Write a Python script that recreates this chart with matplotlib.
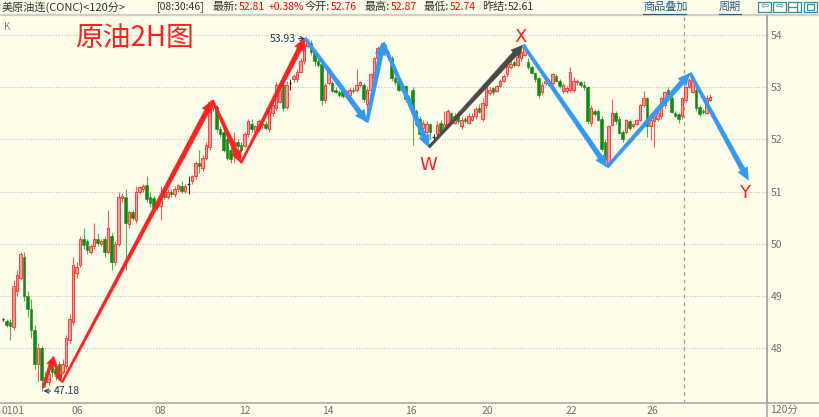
import numpy as np
import matplotlib.pyplot as plt
from matplotlib.patches import Polygon, Rectangle
from matplotlib.lines import Line2D

plt.rcParams["font.family"] = ["Noto Sans CJK SC", "DejaVu Sans"]

# 120-minute bars, crude oil continuous (CONC)
opens = [
    48.55, 48.52, 48.50, 48.40, 49.10, 49.35, 49.75, 49.00, 48.75, 48.35,
    47.70, 48.00, 47.45, 47.35, 47.75, 47.60, 47.70, 47.55, 47.65, 48.15,
    48.50, 49.45, 49.60, 50.10, 50.05, 49.85, 49.95, 50.10, 50.00, 50.10,
    49.85, 50.15, 49.65, 50.00, 50.88, 50.90, 50.38, 50.60, 50.45, 51.00,
    51.05, 51.12, 50.90, 50.88, 50.70, 50.72, 50.95, 50.90, 51.00, 50.95,
    51.05, 51.10, 51.02, 51.15, 51.20, 51.30, 51.55, 51.45, 51.65, 51.85,
    52.60, 52.62, 52.20, 52.15, 52.00, 51.80, 51.70, 51.95, 51.90, 51.88,
    52.10, 52.30, 52.15, 52.20, 52.28, 52.30, 52.20, 52.50, 52.60, 52.72,
    53.05, 52.62, 53.08, 53.15, 53.15, 53.30, 53.50, 53.78, 53.85, 53.68,
    53.50, 53.45, 52.75, 53.08, 53.08, 52.95, 52.90, 52.92, 52.85, 52.85,
    52.95, 52.95, 53.05, 53.05, 52.68, 52.95, 53.18, 53.55, 53.70, 53.80,
    53.68, 53.55, 53.18, 53.12, 52.95, 53.02, 52.80, 52.95, 52.55, 52.40,
    52.22, 52.15, 52.30, 52.05, 52.10, 52.32, 52.18, 52.28, 52.50, 52.32,
    52.45, 52.25, 52.40, 52.32, 52.38, 52.45, 52.60, 52.40, 52.65, 52.88,
    52.98, 52.92, 53.02, 53.12, 53.25, 53.38, 53.48, 53.42, 53.55, 53.62,
    53.48, 53.38, 53.28, 53.18, 52.90, 53.08, 53.12, 53.08, 53.22, 53.12,
    52.92, 52.92, 52.95, 52.95, 53.10, 53.10, 53.05, 53.00, 52.32, 52.55,
    52.55, 52.40, 51.95, 51.55, 52.28, 52.50, 52.40, 52.15, 52.15, 52.35,
    52.25, 52.30, 52.37, 52.65, 52.80, 52.25, 52.35, 52.40, 52.45, 52.65,
    52.95, 52.80, 52.50, 52.48, 52.45, 52.75, 53.00, 52.90, 52.95, 52.62,
    52.55, 52.50, 52.76,
]
highs = [
    48.57, 48.55, 48.55, 49.30, 49.50, 49.85, 49.85, 49.10, 48.95, 48.45,
    48.10, 48.05, 47.55, 47.60, 47.85, 47.70, 47.75, 47.80, 48.25, 48.65,
    49.75, 49.65, 50.15, 50.30, 50.10, 50.00, 50.40, 50.20, 50.10, 50.15,
    50.65, 50.20, 50.05, 51.00, 50.98, 51.05, 50.65, 50.65, 51.10, 51.10,
    51.15, 51.30, 51.00, 50.92, 50.85, 51.10, 51.00, 51.05, 51.05, 51.10,
    51.15, 51.20, 51.15, 51.30, 51.32, 51.58, 51.80, 51.70, 51.95, 52.75,
    52.75, 52.65, 52.25, 52.20, 52.05, 51.85, 52.15, 52.00, 51.95, 52.15,
    52.40, 52.40, 52.28, 52.40, 52.35, 52.35, 52.62, 52.70, 53.10, 53.00,
    53.15, 53.12, 53.15, 53.25, 53.35, 53.55, 53.85, 53.93, 53.90, 53.72,
    53.55, 53.50, 53.08, 53.38, 53.12, 53.00, 52.95, 52.98, 52.95, 52.98,
    53.00, 53.35, 53.12, 53.08, 52.98, 53.28, 53.58, 53.78, 53.85, 53.85,
    53.72, 53.60, 53.22, 53.15, 53.08, 53.05, 52.85, 53.00, 52.58, 52.45,
    52.38, 52.35, 52.32, 52.10, 52.35, 52.38, 52.55, 52.58, 52.52, 52.50,
    52.55, 52.42, 52.42, 52.50, 52.50, 52.62, 52.68, 52.80, 53.05, 53.00,
    53.00, 53.05, 53.15, 53.25, 53.45, 53.50, 53.52, 53.60, 53.72, 53.82,
    53.55, 53.40, 53.30, 53.20, 53.10, 53.15, 53.15, 53.28, 53.25, 53.15,
    53.08, 53.02, 53.38, 53.20, 53.15, 53.12, 53.12, 53.02, 52.65, 52.58,
    52.58, 52.45, 52.00, 52.28, 52.78, 52.55, 52.45, 52.18, 52.40, 52.40,
    52.32, 52.40, 52.68, 52.92, 52.82, 52.40, 52.50, 52.55, 52.82, 52.92,
    53.00, 52.85, 52.55, 52.50, 52.82, 53.02, 53.18, 53.23, 53.00, 52.65,
    52.58, 52.85, 52.87,
]
lows = [
    48.53, 48.40, 48.15, 48.35, 49.00, 49.30, 48.90, 48.60, 48.20, 47.60,
    47.35, 47.18, 47.25, 47.30, 47.45, 47.40, 47.45, 47.50, 47.60, 48.10,
    48.45, 49.35, 49.55, 49.90, 49.80, 49.80, 49.90, 49.95, 49.95, 49.75,
    49.80, 49.50, 49.60, 49.95, 50.80, 49.50, 50.30, 50.45, 50.40, 50.95,
    51.00, 50.80, 50.70, 50.60, 50.65, 50.45, 50.85, 50.85, 50.90, 50.90,
    51.00, 50.98, 50.98, 50.95, 51.15, 51.25, 51.35, 51.40, 51.60, 51.80,
    52.55, 52.15, 52.05, 51.75, 51.60, 51.55, 51.55, 51.80, 51.75, 51.85,
    52.05, 52.15, 52.10, 52.15, 52.22, 52.18, 52.15, 52.45, 52.55, 52.70,
    52.55, 52.58, 52.95, 53.10, 53.10, 53.28, 53.45, 53.75, 53.62, 53.40,
    53.38, 52.65, 52.70, 53.05, 52.90, 52.88, 52.82, 52.80, 52.80, 52.80,
    52.88, 52.90, 53.00, 52.72, 52.40, 52.90, 53.15, 53.50, 53.65, 53.65,
    53.52, 53.12, 53.05, 52.92, 52.90, 52.72, 52.65, 51.90, 52.25, 52.05,
    52.15, 52.10, 52.00, 51.95, 52.05, 52.10, 52.15, 52.25, 52.30, 52.30,
    52.30, 52.20, 52.32, 52.30, 52.35, 52.40, 52.50, 52.35, 52.60, 52.85,
    52.85, 52.90, 53.00, 53.10, 53.20, 53.35, 53.38, 53.40, 53.50, 53.60,
    53.35, 53.25, 53.10, 52.80, 52.85, 53.05, 53.02, 53.05, 53.10, 52.98,
    52.88, 52.88, 52.90, 52.90, 53.05, 53.00, 52.95, 52.30, 52.25, 52.45,
    52.35, 51.78, 51.50, 51.50, 52.25, 52.30, 52.10, 51.95, 52.10, 52.18,
    52.22, 52.28, 52.35, 52.62, 52.05, 51.98, 51.85, 52.35, 52.40, 52.60,
    52.80, 52.50, 52.42, 52.32, 52.40, 52.72, 52.98, 52.88, 52.55, 52.45,
    52.48, 52.48, 52.74,
]
closes = [
    48.55, 48.45, 48.42, 49.20, 49.40, 49.80, 49.00, 48.75, 48.35, 47.70,
    48.00, 47.40, 47.35, 47.50, 47.55, 47.50, 47.55, 47.70, 48.20, 48.55,
    49.60, 49.55, 50.10, 49.98, 49.88, 49.95, 50.10, 50.02, 50.05, 49.85,
    50.30, 49.65, 50.00, 50.90, 50.92, 50.40, 50.60, 50.50, 51.00, 51.08,
    51.10, 50.85, 50.78, 50.70, 50.80, 50.88, 50.90, 51.00, 50.95, 51.05,
    51.12, 51.02, 51.10, 51.15, 51.30, 51.55, 51.50, 51.65, 51.90, 52.72,
    52.70, 52.20, 52.10, 51.80, 51.65, 51.62, 51.95, 51.88, 51.80, 52.10,
    52.35, 52.20, 52.25, 52.35, 52.32, 52.22, 52.55, 52.65, 53.05, 52.95,
    52.60, 53.05, 53.08, 53.22, 53.30, 53.50, 53.80, 53.88, 53.68, 53.50,
    53.42, 52.75, 53.05, 53.35, 52.92, 52.90, 52.85, 52.83, 52.92, 52.95,
    52.92, 53.05, 53.10, 52.78, 52.95, 53.25, 53.55, 53.75, 53.80, 53.70,
    53.58, 53.18, 53.10, 52.95, 53.05, 52.78, 52.70, 52.55, 52.30, 52.10,
    52.32, 52.30, 52.15, 52.05, 52.28, 52.14, 52.30, 52.55, 52.35, 52.45,
    52.35, 52.38, 52.35, 52.45, 52.45, 52.58, 52.52, 52.70, 53.00, 52.95,
    52.90, 53.02, 53.12, 53.22, 53.40, 53.45, 53.42, 53.58, 53.68, 53.75,
    53.38, 53.28, 53.15, 52.85, 53.05, 53.12, 53.05, 53.25, 53.12, 53.02,
    53.05, 52.98, 53.30, 53.12, 53.12, 53.05, 53.00, 52.35, 52.60, 52.48,
    52.38, 51.82, 51.60, 52.25, 52.50, 52.35, 52.12, 52.00, 52.37, 52.22,
    52.30, 52.37, 52.65, 52.80, 52.25, 52.37, 52.45, 52.50, 52.80, 52.90,
    52.82, 52.52, 52.45, 52.40, 52.80, 53.00, 53.13, 53.15, 52.60, 52.48,
    52.52, 52.80, 52.81,
]

date_labels = ["0101", "06", "08", "12", "14", "16", "20", "22", "26"]
date_ticks = [-0.3, 19.7, 43.4, 67.4, 91.1, 114.9, 136.6, 160.6, 184.0]
price_ticks = [48, 49, 50, 51, 52, 53, 54]
cursor_bar = 194.6

# hand-drawn wave marks, (bar, price) waypoints
red_small = [(11.4, 47.24), (14.3, 47.83), (16.6, 47.35)]
red_wave = [(16.9, 47.35), (59.9, 52.75), (68.0, 51.55), (86.3, 53.94)]
blue_wave1 = [(86.3, 53.94), (104.0, 52.33), (108.6, 53.85), (121.7, 51.85)]
black_wave = [(121.7, 51.85), (148.6, 53.81)]
blue_wave2 = [(148.6, 53.81), (172.6, 51.47), (196.3, 53.27), (213.0, 51.22)]
wave_letters = ["W", "X", "Y"]
letter_pos = [(121.4, 51.5), (148.0, 53.96), (212.0, 50.97)]

# header quote
header_labels = ["最新:", "今开:", "最高:", "最低:", "昨结:"]
header_values = ["52.81", "52.76", "52.87", "52.74", "52.61"]

BG = "#fefeea"
RED = "#ff2020"
BLUE = "#3399f2"
GREEN = "#118a11"
AXIS_GRAY = "#a8a8a8"
W, H = 820, 417


def fpos(x, y):
    """Pixel position (from top-left) to figure fraction."""
    return x / W, 1 - y / H


def draw_arrow(ax, p0, p1, color, w0=2.0, w1=5.0, head_w=11.0, head_l=12.0):
    """Tapered arrow between two data points, sized in pixels."""
    tr = ax.transData
    a = tr.transform(p0)
    b = tr.transform(p1)
    d = b - a
    u = d / np.hypot(*d)
    n = np.array([-u[1], u[0]])
    s = b - u * head_l
    pts = [
        a + n * w0 / 2, s + n * w1 / 2, s + n * head_w / 2, b,
        s - n * head_w / 2, s - n * w1 / 2, a - n * w0 / 2,
    ]
    pts = tr.inverted().transform(pts)
    ax.add_patch(Polygon(pts, closed=True, facecolor=color, edgecolor=color,
                         lw=0.3, zorder=6, clip_on=False))


def draw_wave(ax, points, color, **kw):
    for p0, p1 in zip(points[:-1], points[1:]):
        draw_arrow(ax, p0, p1, color, **kw)


def draw_candles(ax):
    o, h, l, c = (np.array(v) for v in (opens, highs, lows, closes))
    x = np.arange(len(c))
    up, down, flat = c > o, c < o, c == o
    ax.vlines(x[up], l[up], h[up], color="#ff5a5a", lw=0.8, zorder=2)
    ax.vlines(x[down], l[down], h[down], color="#5aaa5a", lw=0.8, zorder=2)
    ax.vlines(x[flat], l[flat], h[flat], color="#303030", lw=0.8, zorder=2)
    ax.bar(x[up], c[up] - o[up], bottom=o[up], width=0.72,
           facecolor="#ff9a9a", edgecolor="#ff2a2a", lw=0.6, zorder=3)
    ax.bar(x[down], o[down] - c[down], bottom=c[down], width=0.72,
           facecolor=GREEN, edgecolor=GREEN, lw=0.4, zorder=3)
    ax.hlines(o[flat], x[flat] - 0.4, x[flat] + 0.4, color="#303030", lw=0.9, zorder=3)
    return x, h, l


fig = plt.figure(figsize=(W / 100, H / 100), dpi=100, facecolor=BG)
ax = fig.add_axes([0, (H - 403) / H, 767 / W, (403 - 15) / H])
ax.set_facecolor(BG)
ax.set_xlim(-3 / 3.5, 764 / 3.5)
ax.set_ylim(54 - 368 / 52.2, 54 + 20 / 52.2)

for side in ["left", "top"]:
    ax.spines[side].set_visible(False)
for side in ["right", "bottom"]:
    ax.spines[side].set_color(AXIS_GRAY)
    ax.spines[side].set_linewidth(1.2)

ax.yaxis.tick_right()
ax.set_yticks(price_ticks, [str(p) for p in price_ticks])
ax.tick_params(axis="y", length=0, pad=3, labelsize=7.5, labelcolor="#707070")
ax.set_xticks(date_ticks, date_labels)
ax.tick_params(axis="x", length=0, pad=2, labelsize=7.5, labelcolor="#707070")
for lab in ax.get_xticklabels():
    lab.set_horizontalalignment("left")
ax.yaxis.grid(True, linestyle=(0, (1, 1.5)), color="#c4c4c4", lw=0.8)
ax.set_axisbelow(True)
ax.axvline(cursor_bar, color="#a0a0a0", lw=0.9, ls=(0, (3, 3)), zorder=1)

x, h, l = draw_candles(ax)

# extreme labels
i_hi, i_lo = int(np.argmax(h)), int(np.argmin(l))
ax.annotate(f"{h[i_hi]:.2f}", xy=(i_hi - 0.6, h[i_hi]), xytext=(-7, 0),
            textcoords="offset points", ha="right", va="center", fontsize=7.5,
            color="#203c5c", arrowprops=dict(arrowstyle="->", lw=0.8, color="#203c5c",
                                             shrinkA=0, shrinkB=0))
ax.annotate(f"{l[i_lo]:.2f}", xy=(i_lo + 0.6, l[i_lo]), xytext=(7, 0),
            textcoords="offset points", ha="left", va="center", fontsize=7.5,
            color="#203c5c", arrowprops=dict(arrowstyle="->", lw=0.8, color="#203c5c",
                                             shrinkA=0, shrinkB=0))

# wave arrows
draw_wave(ax, red_small, RED, w0=2.0, w1=3.5, head_w=8, head_l=8)
draw_wave(ax, red_wave, RED, w0=2.0, w1=5.0)
draw_wave(ax, blue_wave1, BLUE, w0=3.0, w1=5.0)
draw_wave(ax, black_wave, "#4a4a4a", w0=2.5, w1=5.5)
draw_wave(ax, blue_wave2, BLUE, w0=3.0, w1=5.0)
for txt, (bx, py) in zip(wave_letters, letter_pos):
    ax.text(bx, py, txt, color=RED, fontsize=13, ha="center", va="center",
            family="DejaVu Sans", zorder=7)

# title and corner marks
fig.text(*fpos(75, 38), "原油2H图", color=RED, fontsize=20, ha="left", va="center")
fig.text(*fpos(4, 27), "K", color="#808080", fontsize=7, ha="left", va="center")
fig.text(*fpos(770, 410), "120分", color="#707070", fontsize=7.5, ha="left", va="center")

# frame lines outside the plot area
fig.add_artist(Line2D([0, 1], [1 - 15 / H] * 2, color="#cfcfcf", lw=1.6))
fig.add_artist(Line2D([767 / W, 1], [1 - 403 / H] * 2, color=AXIS_GRAY, lw=1.2))
fig.add_artist(Line2D([767 / W] * 2, [0, 1 - 15 / H], color=AXIS_GRAY, lw=1.2))

# header bar
fig.text(*fpos(2, 7), "美原油连(CONC)<120分>", color="#333333", fontsize=8, va="center")
fig.text(*fpos(157, 7), "[08:30:46]", color="#333333", fontsize=7.5, va="center")
label_x = [213, 305, 365, 424, 482]
for i, (lab, val) in enumerate(zip(header_labels, header_values)):
    fig.text(*fpos(label_x[i], 7), lab, color="#333333", fontsize=8, va="center")
    vcol = "#333333" if lab == "昨结:" else "#ff0000"
    fig.text(*fpos(label_x[i] + 26, 7), val, color=vcol, fontsize=7.5, va="center")
fig.text(*fpos(269, 7), "+0.38%", color="#ff0000", fontsize=7.5, va="center")

link_col = "#1f5f8c"
for txt, x0, x1 in [("商品叠加", 643, 686), ("周期", 719, 741)]:
    fig.text(*fpos(x0, 7), txt, color=link_col, fontsize=8, va="center")
    fig.add_artist(Line2D([x0 / W, x1 / W], [1 - 13.5 / H] * 2, color=link_col, lw=0.8))

icon_col = "#3a8aaa"
for x0, glyph in [(758, "⇦"), (773, "⇨"), (788, ""), (804, "")]:
    fig.add_artist(Rectangle(fpos(x0, 12), 13 / W, 10 / H, transform=fig.transFigure,
                             facecolor="none", edgecolor=icon_col, lw=0.9))
    if glyph:
        fig.text(*fpos(x0 + 6.5, 7), glyph, color=icon_col, fontsize=7, ha="center",
                 va="center", family="DejaVu Sans")
fig.add_artist(Line2D([797 / W] * 2, [1 - 3 / H, 1 - 11 / H], color=icon_col, lw=0.9))
fig.add_artist(Line2D([789 / W, 797 / W], [1 - 7 / H] * 2, color=icon_col, lw=0.9))
fig.add_artist(Rectangle(fpos(807, 10), 7 / W, 6 / H, transform=fig.transFigure,
                         facecolor="none", edgecolor=icon_col, lw=0.9))

fig.savefig("out.png", dpi=100, facecolor=BG)
